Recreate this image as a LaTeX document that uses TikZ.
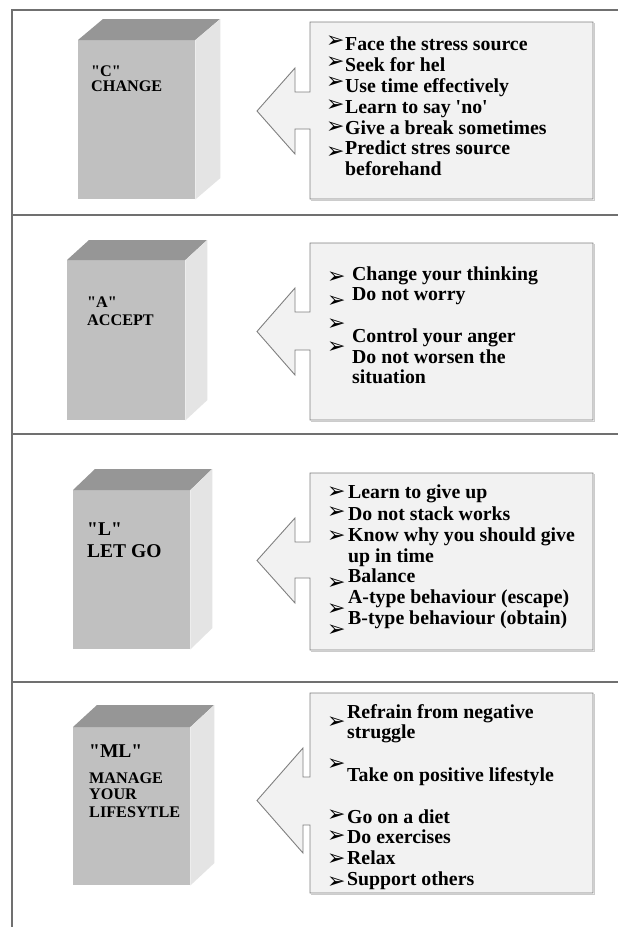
\documentclass[tikz,border=0pt]{standalone}
\usepackage{fontspec}
\newfontfamily\tnr{Liberation Serif}
\newfontfamily\dingfont{DejaVu Sans}
\usetikzlibrary{positioning}
\definecolor{frontf}{HTML}{C0C0C0}
\definecolor{topf}{HTML}{969696}
\definecolor{sidef}{HTML}{E4E4E4}
\definecolor{boxf}{HTML}{F2F2F2}
\definecolor{rim}{HTML}{808080}
\definecolor{rule}{HTML}{707070}
\tikzset{
  frame/.style={draw=rule, line width=1.1pt},
  callout/.style={draw=rim, fill=boxf, line width=0.9pt, line join=miter},
  shade/.style={draw=rim!40, line width=1.6pt},
  cubefront/.style={fill=frontf, inner sep=0pt, anchor=north west},
  title/.style={anchor=base west, inner sep=0pt, font=\tnr\bfseries\fontsize{16.2}{16}\selectfont},
  bigtitle/.style={title, font=\tnr\bfseries\fontsize{19.5}{20}\selectfont},
  entry/.style={anchor=base west, inner sep=0pt, font=\tnr\bfseries\fontsize{19.8}{21}\selectfont},
  tick/.style={anchor=west, inner sep=0pt, font=\dingfont\fontsize{22}{22}\selectfont},
}
% 3-D block: name, x, y of front top-left, width, height, depth dx, depth dy
\newcommand{\cube}[7]{%
  \node[cubefront, minimum width=#4pt, minimum height=#5pt] (#1) at (#2,#3) {};
  \fill[topf] (#1.north west) -- ++(#6,-#7) -- ++(#4,0) -- (#1.north east) -- cycle;
  \fill[sidef] (#1.north east) -- ++(#6,-#7) -- ++(0,#5) -- (#1.south east) -- cycle;
}
% arrow box: top, bottom, shaft top, shaft bottom, notch top, notch bottom, shaft x
\newcommand{\callout}[7]{%
  \begin{scope}[shift={(1.4,1.4)}]
    \draw[shade] (593,#1) -- (593,#2) -- (310,#2);
  \end{scope}
  \draw[callout] (310,#1) -- (593,#1) -- (593,#2) -- (310,#2) -- (310,#4) -- (#7,#4)
    -- (#7,#6) -- (257,{(#5+#6)/2}) -- (#7,#5) -- (#7,#3) -- (310,#3) -- cycle;
}

\begin{document}
\begin{tikzpicture}[x=1pt,y=-1pt]
  \useasboundingbox (0,0) rectangle (618,927);
  \fill[white] (0,0) rectangle (618,927);
  % table rules
  \draw[frame] (12,927) -- (12,10) -- (618,10);
  \foreach \y in {215,434,682} \draw[frame] (12,\y) -- (618,\y);

  % C
  \cube{cubeC}{78}{40}{117}{159}{25}{21}
  \node[title] (tC) at (91,76) {"C"};
  \node[title] (nC) at (91,91) {CHANGE};
  \callout{22}{199}{92}{129}{68}{154}{295}
  \foreach \y [count=\i] in {42,63,83,106,128,153}
    \node[tick] (bC\i) at (326,\y) {➢};
  \foreach \y/\t [count=\i] in {50/Face the stress source, 71/Seek for hel,
      92/Use time effectively, 113/Learn to say 'no', 134/Give a break sometimes,
      154/Predict stres source, 175/beforehand}
    \node[entry] (eC\i) at (345,\y) {\t};

  % A
  \cube{cubeA}{67}{260}{118}{160}{22}{20}
  \node[title] (tA) at (87,307) {"A"};
  \node[title] (nA) at (87,325) {ACCEPT};
  \callout{243}{420}{312}{350}{288}{375}{295}
  \foreach \y [count=\i] in {278,302,325,348}
    \node[tick] (bA\i) at (327,\y) {➢};
  \foreach \y/\t [count=\i] in {280/Change your thinking, 300/Do not worry,
      342/Control your anger, 363/Do not worsen the, 383/situation}
    \node[entry] (eA\i) at (352,\y) {\t};

  % L
  \cube{cubeL}{73}{490}{117}{159}{22}{21}
  \node[bigtitle] (tL) at (87,535) {"L"};
  \node[bigtitle] (nL) at (87,557) {LET GO};
  \callout{473}{650}{542}{578}{518}{603}{295}
  \foreach \y [count=\i] in {493,513,537,584,610,631}
    \node[tick] (bL\i) at (327,\y) {➢};
  \foreach \y/\t [count=\i] in {498/Learn to give up, 520/Do not stack works,
      541/Know why you should give, 562/up in time, 582/Balance,
      603/A-type behaviour (escape), 624/B-type behaviour (obtain)}
    \node[entry] (eL\i) at (348,\y) {\t};

  % ML
  \cube{cubeML}{73}{727}{117}{158}{24}{22}
  \node[bigtitle] (tML) at (89,757) {"ML"};
  \foreach \y/\t [count=\i] in {783/MANAGE, 799/YOUR, 817/LIFESYTLE}
    \node[title] (nML\i) at (89,\y) {\t};
  \callout{693}{893}{777}{825}{748}{853}{303}
  \foreach \y [count=\i] in {723,765,816,837,860,883}
    \node[tick] (bML\i) at (327,\y) {➢};
  \foreach \y/\t [count=\i] in {718/Refrain from negative, 738/struggle,
      781/Take on positive lifestyle, 823/Go on a diet, 843/Do exercises,
      864/Relax, 885/Support others}
    \node[entry] (eML\i) at (347,\y) {\t};
\end{tikzpicture}
\end{document}
